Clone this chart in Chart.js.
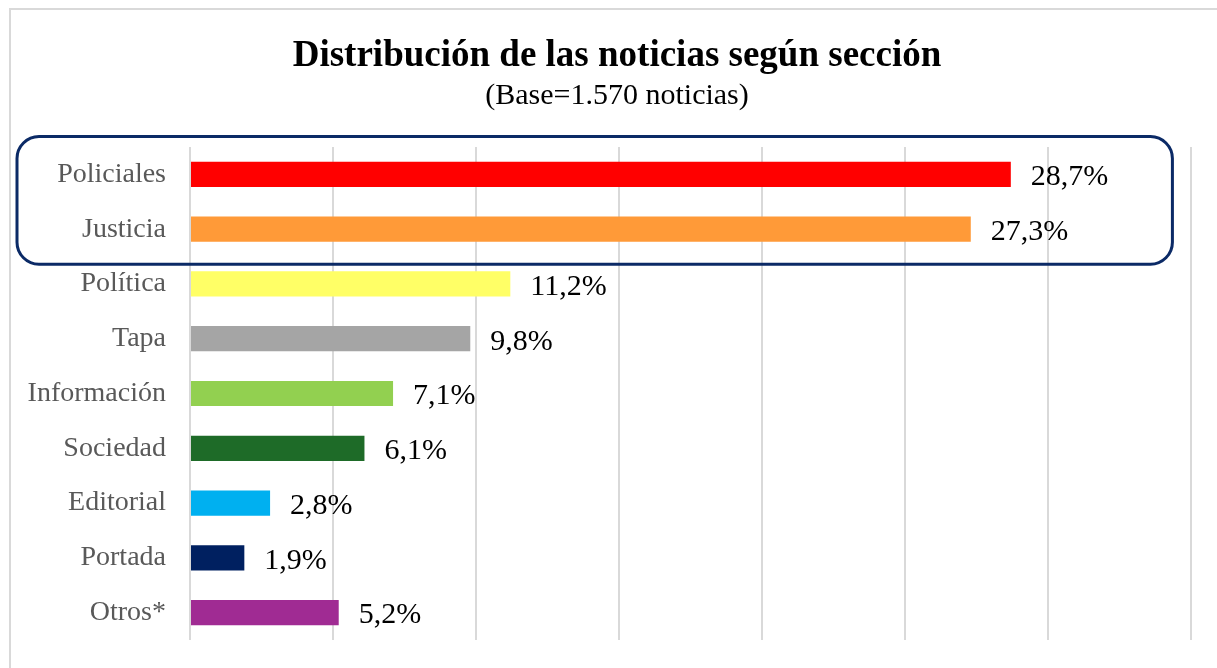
<!DOCTYPE html>
<html>
<head>
<meta charset="utf-8">
<script src="https://cdn.jsdelivr.net/npm/chart.js@4/dist/chart.umd.min.js"></script>
<style>
  html, body { margin: 0; padding: 0; background: #fff; }
  #marco {
    position: absolute; left: 9px; top: 8px; width: 1300px; height: 700px;
    border: 2px solid #d9d9d9; box-sizing: border-box;
  }
  #caja { position: absolute; left: 0; top: 0; width: 1217px; height: 668px; }
</style>
</head>
<body>
<div id="marco"></div>
<div id="caja"><canvas id="grafico"></canvas></div>
<script>
// datos del gráfico
var titulo = "Distribución de las noticias según sección";
var subtitulo = "(Base=1.570 noticias)";
var secciones = ["Policiales", "Justicia", "Política", "Tapa", "Información", "Sociedad", "Editorial", "Portada", "Otros*"];
var porcentajes = [28.7, 27.3, 11.2, 9.8, 7.1, 6.1, 2.8, 1.9, 5.2];
var colores = ["#ff0000", "#ff9a38", "#ffff66", "#a5a5a5", "#92d050", "#1e6b28", "#00b0f0", "#002060", "#a02b93"];

var serif = "'Liberation Serif', 'Times New Roman', serif";

// titulo y subtitulo (centrados un poco a la derecha, como en el original)
var encabezado = {
    id: "encabezado",
    beforeDraw: function (chart) {
        var c = chart.ctx;
        c.save();
        c.fillStyle = "#000";
        c.textAlign = "center";
        c.textBaseline = "middle";
        c.font = "bold 37px " + serif;
        c.fillText(titulo, 617, 56);
        c.font = "30px " + serif;
        c.fillText(subtitulo, 617, 96);
        c.restore();
    }
};

// etiquetas con el porcentaje al final de cada barra
var etiquetas = {
    id: "etiquetas",
    afterDatasetsDraw: function (chart) {
        var c = chart.ctx;
        var barras = chart.getDatasetMeta(0).data;
        c.save();
        c.font = "30px " + serif;
        c.fillStyle = "#000";
        c.textAlign = "left";
        c.textBaseline = "middle";
        barras.forEach(function (b, i) {
            var txt = porcentajes[i].toFixed(1).replace(".", ",") + "%";
            c.fillText(txt, b.x + 20, b.y + 3);
        });
        c.restore();
    }
};

// recuadro redondeado sobre Policiales y Justicia
var recuadro = {
    id: "recuadro",
    afterDraw: function (chart) {
        var c = chart.ctx;
        var y = chart.scales.y, x = chart.scales.x;
        var top = y.getPixelForValue(-0.69);
        var bot = y.getPixelForValue(1.64);
        var izq = 17;
        var der = x.getPixelForValue(34.35);
        c.save();
        c.strokeStyle = "#0b2a66";
        c.lineWidth = 3;
        c.beginPath();
        c.roundRect(izq, top, der - izq, bot - top, 22);
        c.stroke();
        c.restore();
    }
};

var chart = new Chart(document.getElementById("grafico"), {
    type: "bar",
    data: {
        labels: secciones,
        datasets: [{
            data: porcentajes,
            backgroundColor: colores,
            borderWidth: 0,
            barPercentage: 0.46,
            categoryPercentage: 1
        }]
    },
    options: {
        indexAxis: "y",
        responsive: true,
        maintainAspectRatio: false,
        animation: false,
        layout: { padding: { left: 0, right: 26, top: 147, bottom: 28 } },
        plugins: {
            legend: { display: false },
            tooltip: { enabled: false },
            title: { display: false }
        },
        scales: {
            x: {
                min: 0,
                max: 35,
                ticks: { display: false, stepSize: 5 },
                grid: { color: "#d9d9d9", lineWidth: 2, drawTicks: false },
                border: { display: false }
            },
            y: {
                grid: { display: false, drawTicks: false },
                border: { display: false },
                ticks: {
                    color: "#595959",
                    font: { family: serif, size: 28 },
                    padding: 24
                },
                afterFit: function (s) {
                    s.width = 190;
                    s.paddingTop = 0;
                    s.paddingBottom = 0;
                }
            }
        }
    },
    plugins: [encabezado, etiquetas, recuadro]
});
</script>
</body>
</html>
